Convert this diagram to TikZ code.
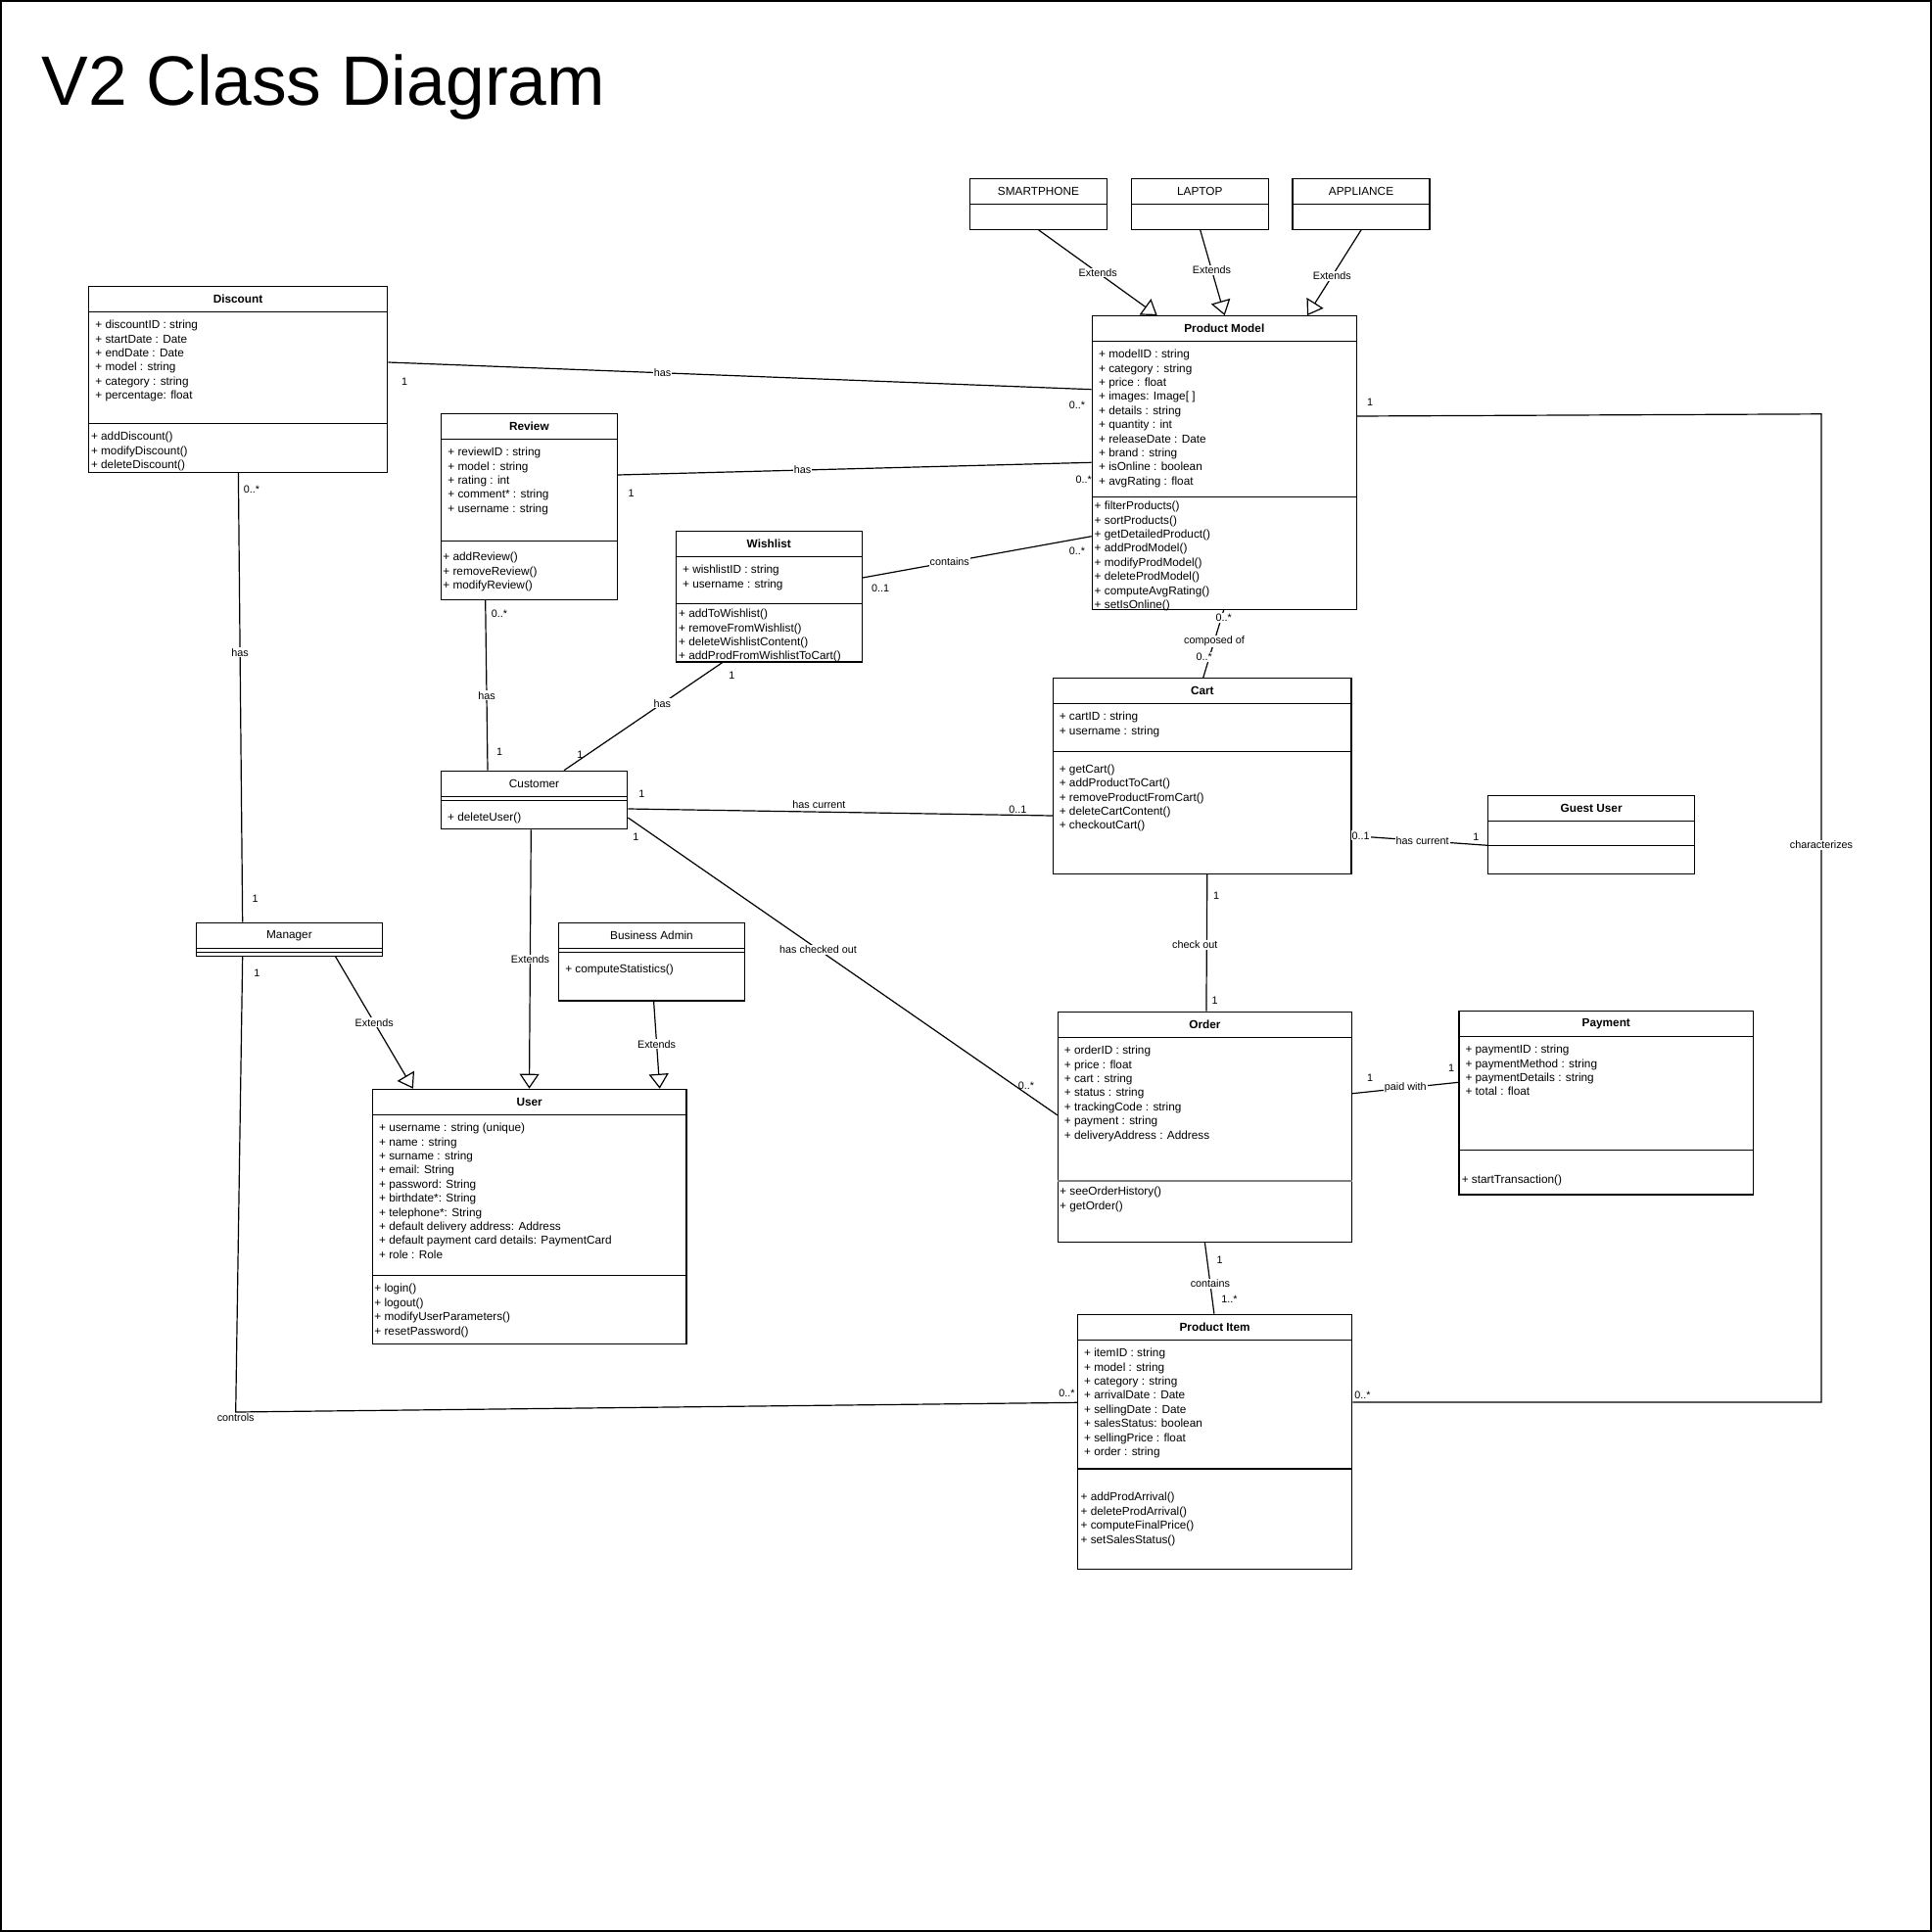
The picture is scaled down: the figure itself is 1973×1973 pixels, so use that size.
\documentclass[tikz,border=0pt]{standalone}
\usepackage{fontspec}
\setmainfont{Liberation Sans}
\usetikzlibrary{arrows.meta,fit}
\newcommand{\clsfont}{\fontsize{5.9}{7.2}\selectfont}
\newcommand{\edgefont}{\fontsize{5.4}{6.5}\selectfont}
\newcommand{\hsep}[2]{\draw[line width=0.6pt] (#1.west |- 0,#2) -- (#1.east |- 0,#2);}

\begin{document}
\begin{tikzpicture}[x=0.5pt,y=-0.5pt]
 \tikzset{cls/.style={draw,line width=0.6pt,inner sep=0pt,fit={#1}},
  ttl/.style={font=\clsfont\bfseries},
  ttlr/.style={font=\clsfont},
  txt/.style={font=\clsfont,align=left,anchor=north west,inner sep=0pt},
  lbl/.style={font=\edgefont,fill=white,inner sep=0.5pt},
  mult/.style={font=\edgefont,inner sep=0.5pt},
  assoc/.style={line width=0.6pt},
  ext/.style={line width=0.6pt,-{Triangle[length=7.5pt,width=10pt,fill=white]}}}
 \useasboundingbox (0,0) rectangle (1973,1973);
 \draw[line width=1pt] (1,1) rectangle (1972,1972);
 \node[anchor=base west,inner sep=0pt,font=\fontsize{35.7}{40}\selectfont] (title) at (42.4,107.3) {V2 Class Diagram};

 % classes
 \node[cls={(90.3,292.3) (395.7,482.3)}] (disc) {};
 \node[ttl] (disc-t) at (disc.north |- 0,305.3) {Discount};
 \hsep{disc}{318.3} \hsep{disc}{432.3}
 \node[txt] (disc-a) at (97,326.7) {+ discountID : string\\+ startDate : Date\\+ endDate : Date\\+ model : string\\+ category : string\\+ percentage: float};
 \node[txt] (disc-m) at (92.6,440.7) {+ addDiscount()\\+ modifyDiscount()\\+ deleteDiscount()};

 \node[cls={(450.5,422.3) (630.3,612.3)}] (rev) {};
 \node[ttl] (rev-t) at (rev.north |- 0,435.3) {Review};
 \hsep{rev}{448.3} \hsep{rev}{552.3}
 \node[txt] (rev-a) at (457,456.7) {+ reviewID : string\\+ model : string\\+ rating : int\\+ comment* : string\\+ username : string};
 \node[txt] (rev-m) at (452,563.7) {+ addReview()\\+ removeReview()\\+ modifyReview()};

 \node[cls={(690.3,542.3) (880.3,676)}] (wish) {};
 \node[ttl] (wish-t) at (wish.north |- 0,555.3) {Wishlist};
 \hsep{wish}{568.3} \hsep{wish}{616.3}
 \node[txt] (wish-a) at (696.7,576.7) {+ wishlistID : string\\+ username : string};
 \node[txt] (wish-m) at (692.7,621.7) {+ addToWishlist()\\+ removeFromWishlist()\\+ deleteWishlistContent()\\+ addProdFromWishlistToCart()};

 \node[cls={(990.3,182.3) (1130.7,234.3)}] (phone) {};
 \node[ttlr] (phone-t) at (phone.north |- 0,195.3) {SMARTPHONE};
 \hsep{phone}{208.3}
 \node[cls={(1155.3,182.3) (1295.3,234.3)}] (laptop) {};
 \node[ttlr] (laptop-t) at (laptop.north |- 0,195.3) {LAPTOP};
 \hsep{laptop}{208.3}
 \node[cls={(1320,182.3) (1460,234.3)}] (appl) {};
 \node[ttlr] (appl-t) at (appl.north |- 0,195.3) {APPLIANCE};
 \hsep{appl}{208.3}

 \node[cls={(1115.3,322.7) (1385.3,622.3)}] (pm) {};
 \node[ttl] (pm-t) at (pm.north |- 0,335.5) {Product Model};
 \hsep{pm}{348.3} \hsep{pm}{507.3}
 \node[txt] (pm-a) at (1121.7,356.7) {+ modelID : string\\+ category : string\\+ price : float\\+ images: Image[ ]\\+ details : string\\+ quantity : int\\+ releaseDate : Date\\+ brand : string\\+ isOnline : boolean\\+ avgRating : float};
 \node[txt] (pm-m) at (1117.3,511.7) {+ filterProducts()\\+ sortProducts()\\+ getDetailedProduct()\\+ addProdModel()\\+ modifyProdModel()\\+ deleteProdModel()\\+ computeAvgRating()\\+ setIsOnline()};

 \node[cls={(450.3,787.3) (640.7,846.7)}] (cust) {};
 \node[ttlr] (cust-t) at (cust.north |- 0,800.3) {Customer};
 \hsep{cust}{813.3} \hsep{cust}{817.3}
 \node[txt] (cust-m) at (456.7,829.3) {+ deleteUser()};

 \node[cls={(1075.6,692.7) (1380,892.3)}] (cart) {};
 \node[ttl] (cart-t) at (cart.north |- 0,705.5) {Cart};
 \hsep{cart}{718.3} \hsep{cart}{767.3}
 \node[txt] (cart-a) at (1081.4,726.7) {+ cartID : string\\+ username : string};
 \node[txt] (cart-m) at (1081.4,780.3) {+ getCart()\\+ addProductToCart()\\+ removeProductFromCart()\\+ deleteCartContent()\\+ checkoutCart()};

 \node[cls={(1519.8,812.3) (1730.5,892.3)}] (guest) {};
 \node[ttl] (guest-t) at (guest.north |- 0,825.3) {Guest User};
 \hsep{guest}{838.3} \hsep{guest}{863.3}

 \node[cls={(200.3,942.3) (390.5,976.3)}] (mgr) {};
 \node[ttlr] (mgr-t) at (mgr.north |- 0,955.3) {Manager};
 \hsep{mgr}{968.3} \hsep{mgr}{972.3}

 \node[cls={(570.4,942.3) (760.6,1022)}] (badm) {};
 \node[ttlr] (badm-t) at (badm.north |- 0,955.3) {Business Admin};
 \hsep{badm}{968.3} \hsep{badm}{972.3}
 \node[txt] (badm-m) at (576.9,985) {+ computeStatistics()};

 \node[cls={(380.5,1112.3) (700.9,1372.3)}] (user) {};
 \node[ttl] (user-t) at (user.north |- 0,1125.3) {User};
 \hsep{user}{1138.3} \hsep{user}{1302.3}
 \node[txt] (user-a) at (386.7,1146.7) {+ username : string (unique)\\+ name : string\\+ surname : string\\+ email: String\\+ password: String\\+ birthdate*: String\\+ telephone*: String\\+ default delivery address: Address\\+ default payment card details: PaymentCard\\+ role : Role};
 \node[txt] (user-m) at (382,1311) {+ login()\\+ logout()\\+ modifyUserParameters()\\+ resetPassword()};

 \node[cls={(1080.4,1033.3) (1380.5,1268.3)}] (order) {};
 \node[ttl] (order-t) at (order.north |- 0,1046.3) {Order};
 \hsep{order}{1059.3}
 \draw[gray,line width=1pt] (order.west |- 0,1205.7) -- (order.east |- 0,1205.7);
 \node[txt] (order-a) at (1086.5,1067.7) {+ orderID : string\\+ price : float\\+ cart : string\\+ status : string\\+ trackingCode : string\\+ payment : string\\+ deliveryAddress : Address};
 \node[txt] (order-m) at (1081.8,1211.7) {+ seeOrderHistory()\\+ getOrder()};

 \node[cls={(1490,1032.3) (1790.6,1220)}] (pay) {};
 \node[ttl] (pay-t) at (pay.north |- 0,1045.3) {Payment};
 \hsep{pay}{1058.3} \hsep{pay}{1174.3}
 \node[txt] (pay-a) at (1496.1,1066.7) {+ paymentID : string\\+ paymentMethod : string\\+ paymentDetails : string\\+ total : float};
 \node[txt] (pay-m) at (1492.4,1199.3) {+ startTransaction()};

 \node[cls={(1100.6,1342.3) (1380.7,1602.3)}] (item) {};
 \node[ttl] (item-t) at (item.north |- 0,1355.3) {Product Item};
 \hsep{item}{1368.3} \hsep{item}{1500}
 \node[txt] (item-a) at (1106.7,1376.7) {+ itemID : string\\+ model : string\\+ category : string\\+ arrivalDate : Date\\+ sellingDate : Date\\+ salesStatus: boolean\\+ sellingPrice : float\\+ order : string};
 \node[txt] (item-m) at (1103.2,1524) {+ addProdArrival()\\+ deleteProdArrival()\\+ computeFinalPrice()\\+ setSalesStatus()};

 % generalisations
 \draw[ext] (phone.south -| 1060.7,0) -- node[lbl,pos=0.5] {Extends} (pm.north -| 1181.7,0);
 \draw[ext] (laptop.south -| 1225.7,0) -- node[lbl,pos=0.47] {Extends} (pm.north -| 1250.7,0);
 \draw[ext] (appl.south -| 1390,0) -- node[lbl,pos=0.54] {Extends} (pm.north -| 1335,0);
 \draw[ext] (mgr.south -| 342.6,0) -- node[lbl,pos=0.5] {Extends} (user.north -| 421.9,0);
 \draw[ext] (cust.south -| 542.3,0) -- node[lbl,pos=0.5] {Extends} (user.north -| 540.5,0);
 \draw[ext] (badm.south -| 667.6,0) -- node[lbl,pos=0.49] {Extends} (user.north -| 673.7,0);

 % associations
 \draw[assoc] (disc.east |- 0,370) -- node[lbl,pos=0.39] {has} (pm.west |- 0,397.7);
 \node[mult] (disc-pm-s) at (413,390) {1};
 \node[mult] (disc-pm-t) at (1100,413.3) {0..*};

 \draw[assoc] (rev.east |- 0,485) -- node[lbl,pos=0.39] {has} (pm.west |- 0,472.3);
 \node[mult] (rev-pm-s) at (644.5,504) {1};
 \node[mult] (rev-pm-t) at (1106.7,489.3) {0..*};

 \draw[assoc] (wish.east |- 0,590) -- node[lbl,pos=0.38] {contains} (pm.west |- 0,547.7);
 \node[mult] (wish-pm-s) at (899,601) {0..1};
 \node[mult] (wish-pm-t) at (1100,562.3) {0..*};

 \draw[assoc] (disc.south -| 243.4,0) -- node[lbl,pos=0.4] {has} (mgr.north -| 247.7,0);
 \node[mult] (disc-mgr-s) at (257,500) {0..*};
 \node[mult] (disc-mgr-t) at (260.5,917.3) {1};

 \draw[assoc] (rev.south -| 495.7,0) -- node[lbl,pos=0.56] {has} (cust.north -| 498,0);
 \node[mult] (rev-cust-s) at (510,626.7) {0..*};
 \node[mult] (rev-cust-t) at (510,767.3) {1};

 \draw[assoc] (wish.south -| 737.7,0) -- node[lbl,pos=0.38] {has} (cust.north -| 576,0);
 \node[mult] (wish-cust-s) at (747.3,690) {1};
 \node[mult] (wish-cust-t) at (592.3,770.7) {1};

 \draw[assoc] (cust.east |- 0,826) -- node[mult,above=1pt,pos=0.45] {has current} (cart.west |- 0,833);
 \node[mult] (cust-cart-s) at (655.3,811) {1};
 \node[mult] (cust-cart-t) at (1039.4,826.7) {0..1};

 \draw[assoc] (cust.east |- 0,835) -- node[lbl,pos=0.443] {has checked out} (order.west |- 0,1138.8);
 \node[mult] (cust-order-s) at (649.3,855) {1};
 \node[mult] (cust-order-t) at (1048,1108.6) {0..*};

 \draw[assoc] (cart.east |- 0,853.5) -- node[lbl,pos=0.52] {has current} (guest.west |- 0,863.3);
 \node[lbl] (cart-guest-s) at (1389.5,853.3) {0..1};
 \node[mult] (cart-guest-t) at (1507.3,855) {1};

 \draw[assoc] (pm.south -| 1249.7,0) -- node[lbl,pos=0.46] {composed of} (cart.north -| 1228.7,0);
 \node[lbl] (pm-cart-s) at (1249.7,630.7) {0..*};
 \node[lbl] (pm-cart-t) at (1229.6,670.7) {0..*};

 \draw[assoc] (cart.south -| 1232.8,0) -- node[lbl,pos=0.516,xshift=-6pt] {check out} (order.north -| 1231.9,0);
 \node[mult] (cart-order-s) at (1242,915) {1};
 \node[mult] (cart-order-t) at (1240.5,1021.7) {1};

 \draw[assoc] (order.east |- 0,1116.7) -- node[lbl,pos=0.5] {paid with} (pay.west |- 0,1105.3);
 \node[mult] (order-pay-s) at (1399,1101) {1};
 \node[mult] (order-pay-t) at (1482,1091) {1};

 \draw[assoc] (order.south -| 1230.4,0) -- node[lbl,pos=0.577] {contains} (item.north -| 1239.9,0);
 \node[mult] (order-item-s) at (1245.5,1286.7) {1};
 \node[mult] (order-item-t) at (1255.5,1326.7) {1..*};

 \draw[assoc] (pm.east |- 0,425) -- (1860,422.8) -- node[lbl,pos=0.436] {characterizes} (1860,1432) -- (item.east |- 0,1432);
 \node[mult] (pm-item-s) at (1399,410.7) {1};
 \node[mult] (pm-item-t) at (1391.4,1424.3) {0..*};

 \draw[assoc] (mgr.south -| 247.7,0) -- (240.7,1442) node[lbl,yshift=-3pt] {controls} -- (item.west |- 0,1432.3);
 \node[mult] (mgr-item-s) at (262.3,994) {1};
 \node[mult] (mgr-item-t) at (1089.4,1422.3) {0..*};
\end{tikzpicture}
\end{document}
